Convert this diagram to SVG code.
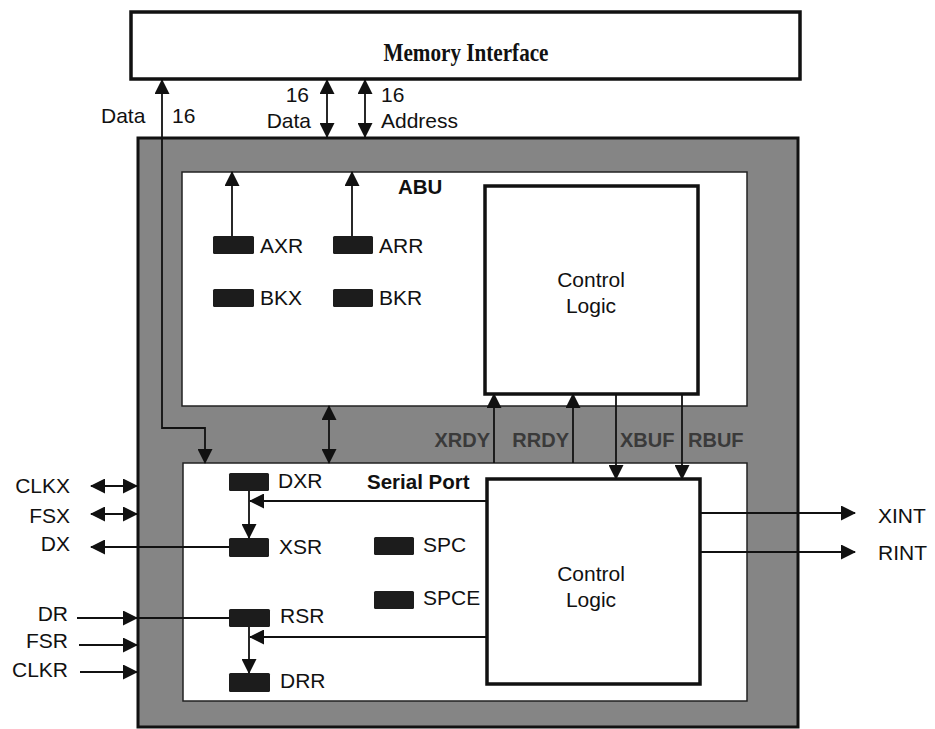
<svg xmlns="http://www.w3.org/2000/svg" width="935" height="729" viewBox="0 0 935 729">
<style>
.t{font-family:"Liberation Sans",Arial,sans-serif;font-size:21px;fill:#111}
.b{font-family:"Liberation Sans",Arial,sans-serif;font-size:20.5px;font-weight:bold;fill:#111}
.sig{font-family:"Liberation Sans",Arial,sans-serif;font-size:20px;font-weight:bold;fill:#3a3a3a}
.ln{stroke:#111;stroke-width:1.8;fill:none}
.reg{fill:#1c1c1c}
.box{fill:#fff;stroke:#111;stroke-width:3.5}
.inner{fill:#fff;stroke:#222;stroke-width:1.5}
</style>
<defs>
<marker id="ah" markerUnits="userSpaceOnUse" markerWidth="16" markerHeight="15" refX="14" refY="7.5" orient="auto-start-reverse" viewBox="0 0 16 15">
<path d="M0,0 L15,7.5 L0,15 Z" fill="#111"/>
</marker>
</defs>
<rect width="935" height="729" fill="#fff"/>

<g id="memory-interface">
<rect x="131" y="12" width="669" height="67" class="box" stroke-width="4"/>
<text x="466" y="61" text-anchor="middle" font-family="'Liberation Serif','Times New Roman',serif" font-weight="bold" font-size="26" fill="#111" textLength="165" lengthAdjust="spacingAndGlyphs">Memory Interface</text>
</g>

<g id="chip">
<rect x="138" y="138" width="660" height="589" fill="#858585" stroke="#111" stroke-width="3"/>
</g>

<g id="abu">
<rect x="182" y="172" width="565" height="234" class="inner"/>
<text x="398" y="194" class="b">ABU</text>
</g>
<g id="abu-control-logic">
<rect x="485" y="186" width="213" height="208" class="box"/>
<text x="591" y="287" class="t" text-anchor="middle">Control</text>
<text x="591" y="313" class="t" text-anchor="middle">Logic</text>
</g>
<g id="axr"><rect x="213" y="236" width="41" height="18" rx="1.5" class="reg"/><text x="260" y="253" class="t">AXR</text></g>
<g id="arr"><rect x="333" y="236" width="40" height="18" rx="1.5" class="reg"/><text x="379" y="253" class="t">ARR</text></g>
<g id="bkx"><rect x="213" y="289" width="41" height="18" rx="1.5" class="reg"/><text x="260" y="305" class="t">BKX</text></g>
<g id="bkr"><rect x="333" y="289" width="40" height="18" rx="1.5" class="reg"/><text x="379" y="305" class="t">BKR</text></g>

<g id="serial-port">
<rect x="183" y="463" width="564" height="238" class="inner"/>
<text x="367" y="489" class="b">Serial Port</text>
</g>
<g id="sp-control-logic">
<rect x="487" y="479" width="213" height="205" class="box"/>
<text x="591" y="581" class="t" text-anchor="middle">Control</text>
<text x="591" y="607" class="t" text-anchor="middle">Logic</text>
</g>
<g id="dxr"><rect x="229" y="473" width="40" height="18" rx="1.5" class="reg"/><text x="278" y="488" class="t">DXR</text></g>
<g id="xsr"><rect x="229" y="538" width="40" height="19" rx="1.5" class="reg"/><text x="279" y="554" class="t">XSR</text></g>
<g id="rsr"><rect x="229" y="609" width="41" height="18" rx="1.5" class="reg"/><text x="280" y="623" class="t">RSR</text></g>
<g id="drr"><rect x="229" y="673" width="41" height="19" rx="1.5" class="reg"/><text x="280" y="688" class="t">DRR</text></g>
<g id="spc"><rect x="374" y="537" width="40" height="18" rx="1.5" class="reg"/><text x="423" y="552" class="t">SPC</text></g>
<g id="spce"><rect x="374" y="591" width="40" height="18" rx="1.5" class="reg"/><text x="423" y="605" class="t">SPCE</text></g>

<g id="connectors">
<path d="M205,463 V428 H162 V80" class="ln" marker-start="url(#ah)" marker-end="url(#ah)"/>
<line x1="327" y1="137" x2="327" y2="80" class="ln" marker-start="url(#ah)" marker-end="url(#ah)"/>
<line x1="365" y1="137" x2="365" y2="80" class="ln" marker-start="url(#ah)" marker-end="url(#ah)"/>
<line x1="232" y1="236" x2="232" y2="172" class="ln" marker-end="url(#ah)"/>
<line x1="352" y1="236" x2="352" y2="172" class="ln" marker-end="url(#ah)"/>
<line x1="329" y1="463" x2="329" y2="406" class="ln" marker-start="url(#ah)" marker-end="url(#ah)"/>
<line x1="494" y1="463" x2="494" y2="394" class="ln" marker-end="url(#ah)"/>
<line x1="573" y1="463" x2="573" y2="394" class="ln" marker-end="url(#ah)"/>
<line x1="616" y1="394" x2="616" y2="479" class="ln" marker-end="url(#ah)"/>
<line x1="682" y1="394" x2="682" y2="479" class="ln" marker-end="url(#ah)"/>
<line x1="487" y1="501" x2="250" y2="501" class="ln" marker-end="url(#ah)"/>
<line x1="249" y1="491" x2="249" y2="538" class="ln" marker-end="url(#ah)"/>
<line x1="487" y1="637" x2="250" y2="637" class="ln" marker-end="url(#ah)"/>
<line x1="249" y1="627" x2="249" y2="673" class="ln" marker-end="url(#ah)"/>
<line x1="91" y1="486" x2="137" y2="486" class="ln" marker-start="url(#ah)" marker-end="url(#ah)"/>
<line x1="91" y1="514" x2="137" y2="514" class="ln" marker-start="url(#ah)" marker-end="url(#ah)"/>
<line x1="229" y1="547" x2="91" y2="547" class="ln" marker-end="url(#ah)"/>
<line x1="77" y1="618" x2="137" y2="618" class="ln" marker-end="url(#ah)"/>
<line x1="137" y1="618" x2="229" y2="618" class="ln"/>
<line x1="79" y1="645" x2="137" y2="645" class="ln" marker-end="url(#ah)"/>
<line x1="80" y1="672" x2="137" y2="672" class="ln" marker-end="url(#ah)"/>
<line x1="700" y1="513" x2="855" y2="513" class="ln" marker-end="url(#ah)"/>
<line x1="700" y1="552" x2="855" y2="552" class="ln" marker-end="url(#ah)"/>
</g>

<g id="labels">
<text x="101" y="123" class="t">Data</text>
<text x="172" y="123" class="t">16</text>
<text x="309" y="102" class="t" text-anchor="end">16</text>
<text x="311" y="128" class="t" text-anchor="end">Data</text>
<text x="381" y="102" class="t">16</text>
<text x="381" y="128" class="t">Address</text>
<text x="490" y="447" class="sig" text-anchor="end">XRDY</text>
<text x="569" y="447" class="sig" text-anchor="end">RRDY</text>
<text x="620" y="447" class="sig">XBUF</text>
<text x="688" y="447" class="sig">RBUF</text>
<text x="70" y="493" class="t" text-anchor="end">CLKX</text>
<text x="70" y="523" class="t" text-anchor="end">FSX</text>
<text x="70" y="551" class="t" text-anchor="end">DX</text>
<text x="68" y="621" class="t" text-anchor="end">DR</text>
<text x="68" y="648" class="t" text-anchor="end">FSR</text>
<text x="68" y="677" class="t" text-anchor="end">CLKR</text>
<text x="878" y="523" class="t">XINT</text>
<text x="878" y="560" class="t">RINT</text>
</g>
</svg>
